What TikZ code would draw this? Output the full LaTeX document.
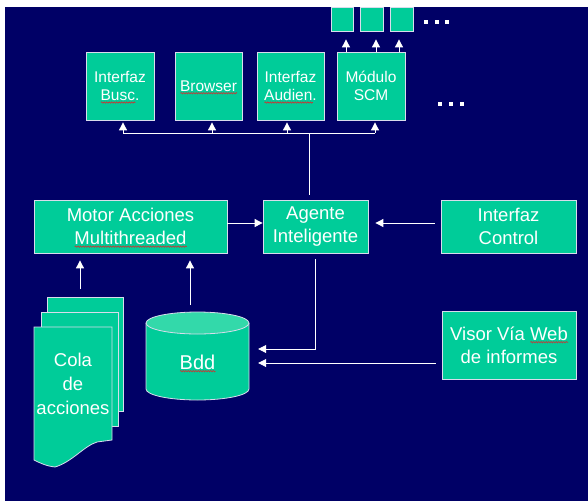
\documentclass[tikz,border=0pt]{standalone}
\usepackage{fontspec}
\setmainfont{Liberation Sans}
\usetikzlibrary{arrows.meta,decorations.pathmorphing,calc}
\definecolor{bgnavy}{HTML}{000066}
\definecolor{boxgreen}{HTML}{00CC99}
\definecolor{boxtop}{HTML}{33D9AA}
\definecolor{edgec}{HTML}{D8DCEC}
\definecolor{sqcol}{HTML}{D03030}
\newsavebox\sqbox
\newcommand\sqw[1]{\sbox\sqbox{#1}\leavevmode\rlap{\smash{\raisebox{-3pt}{\tikz\draw[sqcol,line width=0.6pt,decorate,decoration={snake,amplitude=0.7pt,segment length=2.5pt}] (0pt,0pt)--(\wd\sqbox,0pt);}}}\usebox\sqbox}
\tikzset{
 box/.style={draw=edgec, line width=0.8pt, fill=boxgreen, text=white, inner sep=0pt, align=center},
 topbox/.style={box, minimum width=68pt, minimum height=68pt, font=\fontsize{15.5}{18}\selectfont},
 midbox/.style={box, minimum height=53pt, font=\fontsize{18.5}{23}\selectfont},
 smallbox/.style={box, minimum height=24pt},
 link/.style={color=white, line width=0.9pt},
 arr/.style={link, -{Triangle[length=8pt,width=8pt,fill=white]}},
 sheet/.style={fill=boxgreen, draw=edgec, line width=0.8pt},
}
\begin{document}
\begin{tikzpicture}[x=1pt,y=-1pt]
\useasboundingbox (0,0) rectangle (588,501);
\fill[white] (0,0) rectangle (588,501);
\fill[bgnavy] (5,7) rectangle (588,501);

% top row
\node[topbox] (busc) at (120,86) {Interfaz\\\sqw{Busc}.};
\node[topbox, minimum width=67pt] (browser) at (208.5,86) {\sqw{Browser}};
\node[topbox, minimum width=67pt] (audien) at (290.5,86) {Interfaz\\\sqw{Audien}.};
\node[topbox] (scm) at (371,86) {Módulo\\SCM};

% small boxes above SCM
\node[smallbox, minimum width=22pt] (m1) at (342,19) {};
\node[smallbox, minimum width=23pt] (m2) at (371.5,19) {};
\node[smallbox, minimum width=23pt] (m3) at (401.5,19) {};
\fill[white] (0,0) rectangle (588,6.6);

\coordinate (u1) at (346,52);
\coordinate (u2) at (376,52);
\coordinate (u3) at (399,52);
\draw[arr, shorten >=8pt] (u1) -- (u1 |- m1.south);
\draw[arr, shorten >=8pt] (u2) -- (u2 |- m2.south);
\draw[arr, shorten >=8pt] (u3) -- (u3 |- m3.south);

% dots
\foreach \x in {426,436.5,447} \fill[white] (\x-2,20) rectangle (\x+2,24);
\foreach \x in {439.5,451,462} \fill[white] (\x-2,102) rectangle (\x+2,106);

% middle row
\node[midbox, minimum width=193pt] (motor) at (130.5,226.5) {Motor Acciones\\\sqw{Multithreaded}};
\node[midbox, minimum width=105pt] (agente) at (315.5,226.5) {Agente\\Inteligente};
\node[midbox, minimum width=135pt] (control) at (508.5,226.5) {Interfaz\\Control};
\node[midbox, minimum width=134pt, minimum height=68pt] (visor) at (509,345) {Visor Vía \sqw{Web}\\de informes};

% bus to top row
\coordinate (bus) at (309,133);
\coordinate (b1) at (123,133);
\coordinate (b2) at (212,133);
\coordinate (b3) at (287,133);
\coordinate (b4) at (375,133);
\draw[link, shorten <=5pt] (agente.north -| bus) -- (bus);
\draw[link] (b1) -- (b4);
\draw[arr, shorten >=2pt] (b1) -- (b1 |- busc.south);
\draw[arr, shorten >=2pt] (b2) -- (b2 |- browser.south);
\draw[arr, shorten >=2pt] (b3) -- (b3 |- audien.south);
\draw[arr, shorten >=2pt] (b4) -- (b4 |- scm.south);

% arrows into agente
\coordinate (ay) at (0,223);
\draw[arr] (motor.east |- ay) -- (agente.west |- ay);
\draw[arr, shorten <=6pt, shorten >=7pt] (control.west |- ay) -- (agente.east |- ay);

% database cylinder
\fill[boxgreen] (146,323) -- (146,389) arc[start angle=180,end angle=360,x radius=51.5pt,y radius=11pt] -- (249,323) -- cycle;
\draw[edgec, line width=0.8pt] (146,323) -- (146,389) arc[start angle=180,end angle=360,x radius=51.5pt,y radius=11pt] -- (249,323);
\filldraw[fill=boxtop, draw=edgec, line width=0.8pt] (197.5,323) ellipse [x radius=51.5pt, y radius=11pt];
\node[inner sep=0pt, minimum width=103pt, minimum height=89pt] (bdd) at (197.5,356) {};
\node[text=white, font=\fontsize{20}{24}\selectfont, inner sep=0pt] (bddtext) at (197.5,362) {\sqw{Bdd}};

\coordinate (by1) at (0,349);
\coordinate (by2) at (0,363);
\draw[arr, shorten <=6pt, shorten >=9pt] (agente.south) |- (bdd.east |- by1);
\draw[arr, shorten <=6pt, shorten >=9pt] (visor.west |- by2) -- (bdd.east |- by2);

% document stack
\draw[sheet] (47,297) rectangle (123,411);
\draw[sheet] (41,312) rectangle (118,426);
\draw[sheet] (34,327) -- (112,327) -- (112,440) -- (97,442)
  .. controls (84,446) and (72,462) .. (55,467)
  .. controls (46,466) and (40,463) .. (34,460) -- cycle;
\node[text=white, align=center, font=\fontsize{18.5}{24}\selectfont, inner sep=0pt] (cola) at (73,384) {Cola\\de\\acciones};

\coordinate (c1) at (80,297);
\coordinate (c2) at (190,311);
\draw[arr, shorten <=8pt, shorten >=7pt] (c1) -- (c1 |- motor.south);
\draw[arr, shorten <=6pt, shorten >=7pt] (c2) -- (c2 |- motor.south);
\end{tikzpicture}
\end{document}
